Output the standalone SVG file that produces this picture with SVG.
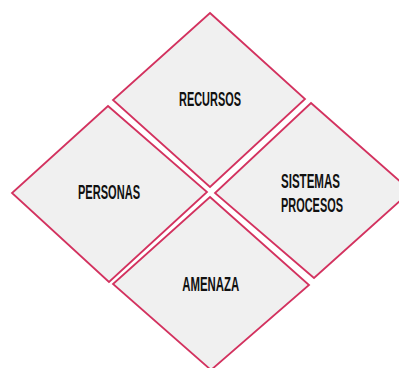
<svg xmlns="http://www.w3.org/2000/svg" width="399" height="368" viewBox="0 0 399 368">
<style>
.d{fill:#f0f0f0;stroke:#d3325f;stroke-width:1.8;stroke-linejoin:miter}
.t{font-family:"Liberation Sans","Roboto",sans-serif;font-weight:bold;font-size:21px;fill:#111;text-anchor:middle}
</style>
<rect width="399" height="368" fill="#ffffff"/>
<g id="connectors"></g>
<g id="recursos">
<polygon class="d" points="210,13 305,99 210,187 113,100"/>
<text class="t" x="210" y="106" textLength="62" lengthAdjust="spacingAndGlyphs">RECURSOS</text>
</g>
<g id="personas">
<polygon class="d" points="108,106 207,192 109,282 12,193"/>
<text class="t" x="109" y="198.7" textLength="62" lengthAdjust="spacingAndGlyphs">PERSONAS</text>
</g>
<g id="sistemas">
<polygon class="d" points="311,103 411,191 314,278 215,193"/>
<text class="t" x="310.5" y="187.7" textLength="59" lengthAdjust="spacingAndGlyphs">SISTEMAS</text>
<text class="t" x="312" y="211.7" textLength="62" lengthAdjust="spacingAndGlyphs">PROCESOS</text>
</g>
<g id="amenaza">
<polygon class="d" points="210,197 309,285 211,370 113,284"/>
<text class="t" x="210.7" y="291" textLength="57" lengthAdjust="spacingAndGlyphs">AMENAZA</text>
</g>
</svg>
